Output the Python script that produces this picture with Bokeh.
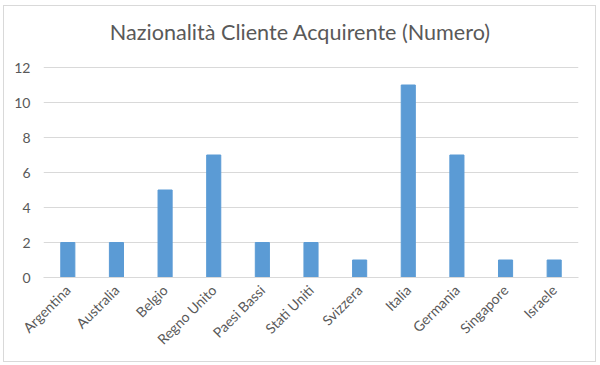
from math import pi
from bokeh.plotting import figure
from bokeh.models import FactorRange, Range1d, FixedTicker
from bokeh.core.properties import value
from bokeh.embed import file_html
from bokeh.resources import INLINE

categories = ["Argentina", "Australia", "Belgio", "Regno Unito", "Paesi Bassi",
              "Stati Uniti", "Svizzera", "Italia", "Germania", "Singapore", "Israele"]
values = [2, 2, 5, 7, 2, 2, 1, 11, 7, 1, 1]
y_ticks = [0, 2, 4, 6, 8, 10, 12]
title_text = "Nazionalità Cliente Acquirente (Numero)"

FONT = "Lato"
GREY = "#595959"

# layout: plot axis 0..12 spans 210 px; extra headroom above holds the title
PX_PER_UNIT = 210 / 12
TOP_PAD = 10
Y_END = (271 - TOP_PAD) / PX_PER_UNIT

p = figure(width=593, height=357, x_range=FactorRange(*categories),
           y_range=Range1d(0, Y_END), output_backend="svg", toolbar_location=None,
           min_border_left=39, min_border_right=19,
           min_border_top=TOP_PAD, min_border_bottom=86)
p.styles = {"border": "1px solid #d9d9d9", "margin-left": "3px", "margin-top": "5px"}

p.vbar(x=categories, top=values, width=0.29, color="#5b9bd5")

# title drawn as text inside the headroom of the frame
p.text(x=[5.28], y=[(271 - 25) / PX_PER_UNIT], text=[title_text],
       text_align="center", text_baseline="middle", text_font=value(FONT),
       text_font_size="21.6px", text_color=GREY)

p.outline_line_color = None
p.xgrid.grid_line_color = None
p.ygrid.grid_line_color = "#d9d9d9"
p.ygrid.ticker = FixedTicker(ticks=y_ticks)

p.yaxis.ticker = FixedTicker(ticks=y_ticks)
p.yaxis.axis_line_color = None
p.yaxis.major_tick_line_color = None
p.yaxis.minor_tick_line_color = None
p.yaxis.major_tick_out = 0
p.yaxis.major_label_text_font = FONT
p.yaxis.major_label_text_font_size = "14px"
p.yaxis.major_label_text_color = GREY
p.yaxis.major_label_standoff = 13

p.xaxis.axis_line_color = "#d9d9d9"
p.xaxis.major_tick_line_color = None
p.xaxis.minor_tick_line_color = None
p.xaxis.major_tick_out = 0
p.xaxis.major_label_orientation = pi / 4
p.xaxis.major_label_text_font = FONT
p.xaxis.major_label_text_font_size = "14px"
p.xaxis.major_label_text_color = GREY
p.xaxis.major_label_standoff = 10

open("out.html", "w").write(file_html(p, INLINE))
